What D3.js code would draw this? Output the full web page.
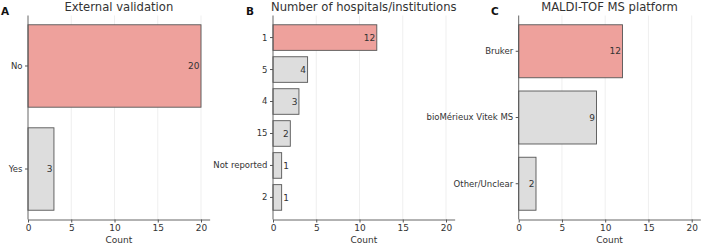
<!DOCTYPE html>
<html><head><meta charset="utf-8">
<script src="https://cdn.jsdelivr.net/npm/d3@7"></script>
<style>body{margin:0;background:#fff}svg{display:block;font-family:"DejaVu Sans",sans-serif}</style>
</head><body>
<svg id="c" width="702" height="245"></svg>
<script>
const titles = ["External validation", "Number of hospitals/institutions", "MALDI-TOF MS platform"];
const letters = ["A", "B", "C"];
const catsA = ["No", "Yes"];
const valsA = [20, 3];
const catsB = ["1", "5", "4", "15", "Not reported", "2"];
const valsB = [12, 4, 3, 2, 1, 1];
const catsC = ["Bruker", "bioMérieux Vitek MS", "Other/Unclear"];
const valsC = [12, 9, 2];
const xTicks = [0, 5, 10, 15, 20];

(function () {
const panels = [
  {cats: catsA, vals: valsA, x0: 28, letterX: 1},
  {cats: catsB, vals: valsB, x0: 273, letterX: 246},
  {cats: catsC, vals: valsC, x0: 518.7, letterX: 491}
];
const svg = d3.select("#c");
const plotTop = 15.5, plotBottom = 219.5, ppu = 8.65;
const red = "#eea19c", gray = "#dddddd", edge = "#555555";

panels.forEach((p, i) => {
  const x = d3.scaleLinear().domain([0, 21]).range([p.x0, p.x0 + 21 * ppu]);
  const n = p.cats.length;
  const span = (n - 1) + 0.8;
  const lo = -0.4 - 0.05 * span, hi = n - 1 + 0.4 + 0.05 * span;
  const yl = d3.scaleLinear().domain([lo, hi]).range([plotTop, plotBottom]);
  const step = yl(1) - yl(0);
  const g = svg.append("g");
  g.selectAll("line.grid").data(xTicks.slice(1)).join("line").attr("class", "grid")
    .attr("x1", d => x(d)).attr("x2", d => x(d)).attr("y1", plotTop).attr("y2", plotBottom)
    .attr("stroke", "#ebebeb").attr("stroke-width", 0.8);
  g.selectAll("rect").data(p.vals).join("rect")
    .attr("x", x(0)).attr("width", d => x(d) - x(0))
    .attr("y", (d, j) => yl(j) - 0.4 * step).attr("height", 0.8 * step)
    .attr("fill", (d, j) => j === 0 ? red : gray)
    .attr("stroke", edge).attr("stroke-width", 0.9);
  g.selectAll("text.val").data(p.vals).join("text").attr("class", "val")
    .attr("x", d => d <= 1 ? x(d) + 1.5 : x(d) - 1.5)
    .attr("y", (d, j) => yl(j))
    .attr("dy", "0.35em")
    .attr("text-anchor", d => d <= 1 ? "start" : "end")
    .attr("font-size", 9).attr("fill", "#333")
    .text(d => d);
  const xa = g.append("g").attr("transform", `translate(0,${plotBottom})`)
    .call(d3.axisBottom(x).tickValues(xTicks).tickSize(3).tickPadding(2).tickSizeOuter(0));
  xa.select(".domain").attr("stroke", edge).attr("stroke-width", 0.9);
  xa.selectAll(".tick line").attr("stroke", edge);
  xa.selectAll(".tick text").attr("font-size", 9).attr("fill", "#333").attr("font-family", "DejaVu Sans");
  const ya = g.append("g").attr("transform", `translate(${p.x0},0)`);
  ya.append("line").attr("x1", 0).attr("x2", 0).attr("y1", plotTop).attr("y2", plotBottom)
    .attr("stroke", edge).attr("stroke-width", 0.9);
  p.cats.forEach((c, j) => {
    ya.append("line").attr("x1", -3).attr("x2", 0).attr("y1", yl(j)).attr("y2", yl(j)).attr("stroke", edge);
    ya.append("text").attr("x", -5.5).attr("y", yl(j)).attr("dy", "0.35em")
      .attr("text-anchor", "end").attr("font-size", 8.5).attr("fill", "#333").text(c);
  });
  g.append("text").attr("x", (x(0) + x(21)) / 2).attr("y", 243)
    .attr("text-anchor", "middle").attr("font-size", 9).attr("fill", "#333").text("Count");
  g.append("text").attr("x", (x(0) + x(21)) / 2).attr("y", 10.5)
    .attr("text-anchor", "middle").attr("font-size", 11.6).attr("fill", "#333").text(titles[i]);
  g.append("text").attr("x", p.letterX).attr("y", 14.8)
    .attr("font-size", 10.5).attr("font-weight", "bold").attr("fill", "#111").text(letters[i]);
});
})();
</script>
</body></html>
